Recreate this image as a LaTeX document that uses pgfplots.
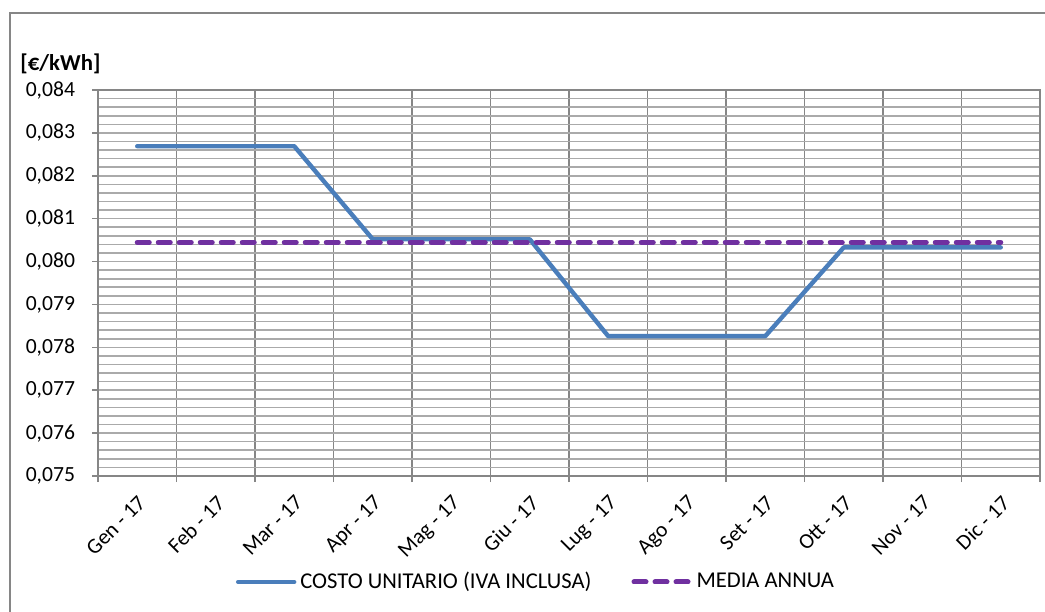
\documentclass[border=0pt]{standalone}
\usepackage{pgfplots}
\pgfplotsset{compat=1.18}
\usepackage{fontspec}
\setmainfont{Carlito}
\definecolor{lblue}{RGB}{74,126,187}
\definecolor{mpurple}{RGB}{112,48,160}
\definecolor{gridh}{RGB}{170,170,170}
\definecolor{gridv}{RGB}{134,134,134}
\begin{document}
\begin{tikzpicture}[x=1pt,y=1pt]
\useasboundingbox (0,0) rectangle (522.5,305.5);
\draw[gridv, line width=0.8pt] (5,-2) -- (5,299) -- (525,299);
\node[anchor=west, font=\bfseries\fontsize{11.4}{13}\selectfont, inner sep=0pt] at (10,273.8) {[€/kWh]};
\begin{axis}[
  at={(49pt,67.5pt)}, anchor=south west,
  scale only axis, width=471pt, height=193pt,
  xmin=-0.5, xmax=11.5, ymin=0.075, ymax=0.084,
  axis line style={gridv, line width=0.8pt},
  tick pos=left, tick align=outside,
  major tick length=3pt, minor tick length=3pt,
  xtick={0,1,2,3,4,5,6,7,8,9,10,11},
  xticklabels={Gen - 17, Feb - 17, Mar - 17, Apr - 17, Mag - 17, Giu - 17, Lug - 17, Ago - 17, Set - 17, Ott - 17, Nov - 17, Dic - 17},
  major x tick style={draw=none},
  minor xtick={-0.5,0.5,1.5,2.5,3.5,4.5,5.5,6.5,7.5,8.5,9.5,10.5,11.5},
  minor x tick style={gridv, line width=0.8pt},
  xminorgrids,
  minor x grid style={gridv, line width=0.8pt},
  ytick={0.075,0.076,0.077,0.078,0.079,0.080,0.081,0.082,0.083,0.084},
  minor y tick num=4,
  minor y tick style={draw=none},
  major y tick style={gridv, line width=0.8pt},
  ymajorgrids, yminorgrids,
  major y grid style={gridh, line width=0.8pt},
  minor y grid style={gridh, line width=0.8pt},
  scaled y ticks=false,
  /pgf/number format/assume math mode=true,
  yticklabel style={xshift=-5pt, font=\fontsize{10.8}{12}\selectfont, /pgf/number format/use comma, /pgf/number format/fixed, /pgf/number format/fixed zerofill, /pgf/number format/precision=3},
  ticklabel style={text=black},
  xticklabel style={font=\fontsize{10.8}{12}\selectfont, rotate=45, anchor=north east, inner sep=1pt, yshift=-3.1pt, xshift=-3.25pt},
  legend style={at={(0.466,-0.2746)}, anchor=center, legend columns=2, draw=none, fill=none,
    font=\fontsize{11.3}{13}\selectfont,
    /tikz/every even column/.append style={column sep=18pt}},
  legend cell align=left,
  legend image code/.code={\draw[#1] (0pt,0pt) -- (28pt,0pt);},
]
\addplot[lblue, line width=2.2pt, line join=round, line cap=round]
  coordinates {(0,0.08269) (1,0.08269) (2,0.08269) (3,0.08052) (4,0.08052) (5,0.08052) (6,0.07826) (7,0.07826) (8,0.07826) (9,0.08033) (10,0.08033) (11,0.08033)};
\addlegendentry{COSTO UNITARIO (IVA INCLUSA)}
\addplot[mpurple, line width=2.5pt, dash pattern=on 6pt off 4.5pt, line cap=round]
  coordinates {(0,0.08045) (11,0.08045)};
\addlegendentry{MEDIA ANNUA}
\end{axis}
\end{tikzpicture}
\end{document}
